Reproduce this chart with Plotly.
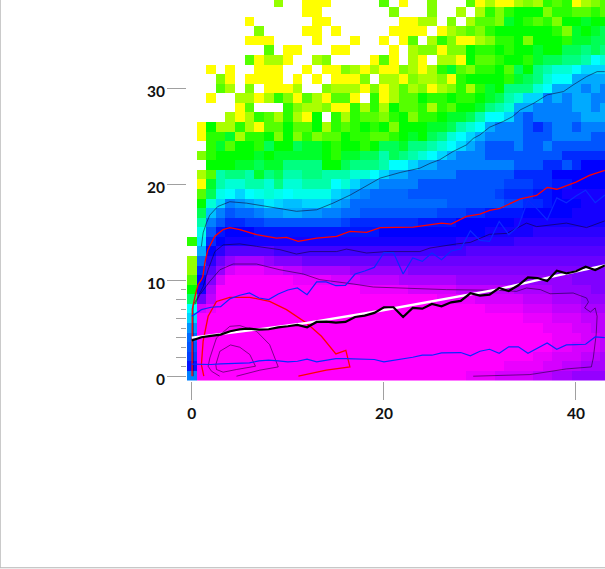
import plotly.graph_objects as go

N = None
x_bins = list(range(44))
y_bins = list(range(40))

# heat values per row (0 yellow ... 24 magenta, None = empty), rows from y=39 down to y=0
z_top_down = [
 [N,N,N,N,N,N,N,N,N,2.5, N,N,0,0,0,N,N,N,N,N, 4,N,0,N,N,3,N,N,N,4, 0,2,0,0,2,3,2,5,4,5, 0,2,3,4],
 [N,N,N,N,N,N,N,N,N,N, N,N,0,0,N,N,N,N,N,N, N,3,N,N,N,3,N,N,2,N, 2,5,3,5,6,6,6,3,5,5, 4,4,5,4],
 [N,N,N,N,N,N,0,N,N,N, N,N,N,0,0,N,N,N,N,N, N,N,0,0,2,2,N,3,N,2, 4,4,3,7,6,5,4,5,3,6, 6,7,6,6],
 [N,N,N,N,N,N,N,3,N,N, N,N,0,0,N,0,N,N,N,N, N,0,0,0,0,N,0,2,3,4, 3,5,6,6,6,6,6,6,5,3, 7,6,7,8],
 [N,N,N,N,N,N,0,0,0,N, N,N,N,0,N,N,N,0,N,N, 0,N,0,4,N,2,5,3,0,0, 2,3,5,5,6,3,6,6,6,5, 7,7,8,8],
 [N,N,N,N,N,N,N,N,4,N, 0,0,N,N,N,0,0,N,N,N, N,0,N,2,3,3,0,3,3,6, 5,5,6,5,6,6,7,6,6,8, 8,9,8,9],
 [N,N,N,N,N,N,4,0,2,2, 0,N,N,2,3,N,N,N,N,0, 4,0,N,2,0,N,2,2,0,6, 4,4,5,6,6,5,7,8,8,9, 9,10,12,11],
 [N,N,0,N,0,N,N,0,0,0, N,N,0,N,0,0,3,2,0,2, 0,0,3,2,0,2,5,7,4,3, 5,5,6,4,8,6,9,10,11,11, 12,13,13,13],
 [N,N,N,3,0,N,0,0,0,0, N,0,N,0,N,0,0,0,3,N, 2,2,0,3,2,2,3,0,5,6, 6,6,6,5,7,8,9,11,12,12, 14,14,14,14],
 [N,N,N,4,2,N,3,N,0,0, 0,2,N,N,3,2,2,2,0,3, 0,2,4,2,3,0,2,3,5,2, 5,7,6,9,9,9,11,12,14,14, 14,15,14,15],
 [N,N,0,N,N,2,2,0,2,5, 3,0,4,2,0,4,4,0,N,5, 0,2,4,4,6,5,5,6,5,5, 6,7,8,10,11,13,13,15,14,15, 14,14,15,15],
 [N,N,N,N,N,0,4,N,N,N, 5,3,2,2,3,0,0,5,2,5, 2,6,4,4,5,2,5,4,6,6, 7,9,10,11,14,14,15,15,15,15, 14,14,15,14],
 [N,N,N,N,2,0,2,5,4,2, 5,2,0,6,N,5,2,5,4,4, 3,5,6,3,5,5,6,7,7,8, 10,12,12,13,15,16,15,15,15,15, 15,14,14,14],
 [N,0,6,2,2,5,2,0,4,4, 6,4,4,6,2,5,4,5,6,5, 6,3,6,6,6,7,7,8,10,11, 12,14,15,15,15,16,17,16,15,15, 16,15,15,15],
 [N,0,5,5,7,2,5,5,6,3, 6,3,5,3,4,4,6,5,5,4, 4,5,6,7,6,8,9,11,12,13, 14,15,15,15,15,16,16,16,15,15, 15,15,16,16],
 [N,N,5,7,4,6,6,5,8,6, 6,8,7,7,6,5,6,6,5,6, 8,8,7,9,9,10,11,12,13,14, 15,16,16,16,15,16,16,15,16,16, 16,16,16,16],
 [N,3,5,6,6,6,6,7,6,7, 7,7,7,7,6,5,7,7,8,8, 10,8,9,10,11,12,13,14,15,15, 15,16,16,16,16,16,16,16,16,17, 17,17,17,17],
 [N,N,6,6,6,7,7,8,7,7, 9,9,9,9,6,6,8,9,9,9, 10,12,12,13,14,14,15,15,15,15, 15,15,15,15,16,16,16,17,17,16, 17,18,18,18],
 [N,2,4,10,9,9,10,7,9,8, 10,10,9,9,10,10,10,11,11,12, 13,14,14,15,15,15,15,15,16,16, 16,16,16,16,17,17,17,17,18,18, 18,18,18,18],
 [N,0,7,10,11,11,10,10,11,9, 11,11,10,10,10,12,11,13,14,14, 15,15,15,15,16,16,16,16,16,16, 16,16,16,16.5,16.5,16.5,17,17,17.5,17.5, 18,18,18,18],
 [N,4,8,11.5,12,13,12,11.5,11,11.5, 12,11.5,11.5,11.5,11.5,13,13.5,14.5,15,15.5, 15.5,15.5,15.5,16,16,16,16,16,16,16, 16,16,16.5,17,17,17,17.5,17.5,18,18.5, 18.5,18.5,18.5,18.5],
 [N,6,11,13,15,14.5,14,13.5,12.5,13, 13.5,13.5,13,13,13,14,14.5,15.5,15.5,15.5, 15.5,15.5,15.5,15.5,15.5,15.5,15.5,16,16,16, 16,16,16,16.5,16.5,17,17,17.5,18,18, 18,18.5,18.5,18.5],
 [N,8,13.5,15,16,15.5,15.5,15,14.5,14.5, 14,14,14.5,14.5,15,15,15.5,15.5,16,16, 16,16,16,16,16,16,16.5,16.5,16.5,17, 17,17.5,17.5,17.5,17.5,18,18,18,18,18, 18.5,18.5,18.5,18.5],
 [N,10,15,16,17,17,16.5,16.5,16,16, 16,16,16,16,16,16,16.5,17,17,17, 17,17,17,17,17.5,17.5,17.5,17.5,18,18, 18,18,18,18,18.5,18.5,18.5,18.5,18.5,18.5, 18.5,18.5,18.5,18.5],
 [N,11.5,16,17.5,18,18,18,17.5,17.5,17.5, 17.5,17.5,17.5,17.5,17.5,17.5,17.5,17.5,17.5,17.5, 18,18,18,18,18,18,18,18,18,18, 18,18.5,18.5,18.5,18.5,18.5,19,19,19,19, 19,19,19,19],
 [5,12.5,17,18,18.5,18.5,18.5,18.5,18.5,18.5, 18.5,18.5,18.5,18.5,18.5,18.5,18.5,18.5,18.5,18.5, 18.5,18.5,18.5,18.5,18.5,18.5,18.5,18.5,19,19, 19,19,19,19,19.5,19.5,19.5,19.5,19.5,19.5, 19.5,19.5,19.5,19.5],
 [N,14,18,19,20,20,20,20,20,19.5, 19.5,19.5,19.5,19.5,19.5,19.5,19.5,19.5,19.5,19.5, 19.5,19.5,19.5,19.5,19.5,19.5,19.5,19.5,19.5,20, 20,20,20,20,20,20,20,20,20,20, 20,20,20,20],
 [2.5,15.5,19,20.5,21.5,22,22,22,21.5,21, 21,21,20.5,20.5,20.5,20.5,20.5,20.5,20.5,20.5, 20.5,20.5,20.5,20.5,20.5,20.5,20.5,20.5,20.5,20.5, 20.5,20.5,20.5,20.5,20.5,20.5,20.5,20.5,20.5,20.5, 20.5,20.5,20.5,20.5],
 [2.5,17,20,21.5,23,23.5,23.5,23.5,23,23, 22.5,22.5,22,22,22,22,22,21.5,21.5,21.5, 21.5,21.5,21.5,21,21,21,21,21,21,21, 21,21,21,21,21,21,21,21,21,21, 21,21,21,21],
 [4,18,21,23,24,24,24,24,24,24, 24,23.5,23.5,23.5,23.5,23,23,23,22.5,22.5, 22.5,22.5,22,22,22,22,22,22,21.5,21.5, 21.5,21.5,21.5,21.5,21.5,21.5,21.5,21.5,21.5,21.5, 21,21,21,21],
 [6,18.5,22,24,24,24,24,24,24,24, 24,24,24,24,24,24,24,24,23.5,23.5, 23.5,23.5,23.5,23,23,23,23,23,22.5,22.5, 22.5,22.5,22.5,22.5,22,22,22,22,21.5,21.5, 21.5,21.5,21,21],
 [8.5,20.5,22.5,24,24,24,24,24,24,24, 24,24,24,24,24,24,24,24,24,24, 24,24,24,24,24,24,23.5,23.5,23.5,23.5, 23,23,23,23,23,22.5,22.5,22.5,22,22, 22,21.5,21.5,21.5],
 [12,23,23.5,24,24,24,24,24,24,24, 24,24,24,24,24,24,24,24,24,24, 24,24,24,24,24,24,24,24,24,24, 24,23.5,23.5,23.5,23.5,23,23,23,22.5,22.5, 22.5,22,22,22],
 [13,24,24,24,24,24,24,24,24,24, 24,24,24,24,24,24,24,24,24,24, 24,24,24,24,24,24,24,24,24,24, 24,24,24,24,24,23.5,23.5,23.5,23,23, 23,22.5,22.5,22.5],
 [14.5,24,24,24,24,24,24,24,24,24, 24,24,24,24,24,24,24,24,24,24, 24,24,24,24,24,24,24,24,24,24, 24,24,24,24,24,24,24,23.5,23.5,23.5, 23,23,22.5,22.5],
 [15.5,24,24,24,24,24,24,24,24,24, 24,24,24,24,24,24,24,24,24,24, 24,24,24,24,24,24,24,24,24,24, 24,24,24,24,24,24,24,24,23.5,23.5, 23.5,23,23,22.5],
 [16,24,24,24,24,24,24,24,24,24, 24,24,24,24,24,24,24,24,24,24, 24,24,24,24,24,24,24,24,24,24, 24,24,24,24,24,24,24,24,23.5,23.5, 23,23,23,22.5],
 [16.5,24,24,24,24,24,24,24,24,24, 24,24,24,24,24,24,24,24,24,24, 24,24,24,24,24,24,24,24,24,24, 24,24,24,24,24,24,23.5,23.5,23,23, 23,22.5,22.5,22],
 [17.5,24,24,24,24,24,24,24,24,24, 24,24,24,24,24,24,24,24,24,24, 24,24,24,24,24,24,24,24,24,24, 24,24,24,23.5,23.5,23.5,23.5,23,23,22.5, 22.5,22,22,22],
 [15,24,24,24,24,24,24,24,24,24, 24,24,24,24,24,24,24,24,24,24, 24,24,24,24,24,24,24,24,24,23.5, 23.5,23.5,23,23,23,23,22.5,22.5,22,22, 21.5,21.5,21.5,21.5],
]

bin_x = list(range(44))
mean_y = [3.72,4.06,4.2,4.34,4.69,4.9,4.97,4.86,4.9,5.1,5.21,5.35,5.1,5.66,5.69,5.59,5.66,6.18,6.32,6.6,
          7.19,7.19,6.18,7.12,7.05,7.53,7.29,7.71,7.85,8.65,8.4,8.51,9.2,8.89,9.48,10.31,10.24,9.93,11.0,10.73,
          10.94,11.42,11.08,11.56]
fit_x = [0, 3.26, 6.7, 12, 16, 18.9, 31.7, 38, 43]
fit_y = [4.03, 4.4, 4.86, 5.56, 6.25, 6.7, 9.03, 10.49, 11.56]
pct_low_y = [1.25,1.22,1.22,1.28,1.32,1.35,1.39,1.6,1.67,1.6,1.49,1.56,1.77,1.49,1.67,1.84,1.84,1.81,1.77,1.74,
             1.49,1.63,1.77,1.98,2.19,2.19,2.43,2.43,2.47,2.12,2.6,2.81,2.4,3.06,3.06,2.4,2.95,3.47,2.81,3.26,
             3.3,3.33,4.1,4.03]
pct_high_y = [6.25,6.94,7.19,7.26,8.09,8.44,8.68,8.16,7.99,8.58,8.99,9.2,8.51,9.83,9.83,9.44,9.48,10.66,10.97,11.35,
              12.88,12.88,10.66,12.33,11.98,12.85,12.15,13.06,13.26,15.17,14.17,14.06,16.15,14.76,15.63,18.4,17.4,16.3,18.6,18.1,
              18.8,19.4,18.1,18.9]

c1_x = [1.0,1.18,1.53,1.87,2.7,3.96,5.7,7.78,9.5,10.9,13,14.7,16.5,18.54,19.6,21.7,23.75,24.8,25.8,27.2,28.6,29.3,30,31,32.4,33.4,34.2,35.6,37,38.7,39.7,41.1,42.2,43]
c1_y = [13.54,14.96,16,16.8,17.7,18.2,18.05,17.7,17.36,17.2,17.36,18.05,18.9,20.03,20.66,21.25,21.7,22.2,22.57,23.44,24.13,24.8,25.17,25.97,26.56,27.08,27.78,28.47,29.34,29.69,30.38,31.25,31.77,31.77]

red1_x = [0.03,0.05,0.42,0.66,1.0,1.15,1.35,1.68,2.4,3.26,3.96,5,6.74,8.82,9.86,11.08,13,15.07,16.46,18.2,19.6,23.05,26,27,28.6,30,31,32,34.2,35.9,37,38,40,41.4,43]
red1_y = [0,7,8.69,9.55,10.07,10.4,11.8,13.2,14.6,15.3,15.5,15.28,14.76,14.41,14.48,14.06,14.41,14.58,15.1,15,15.5,15.56,15.97,15.87,16.67,16.91,17.3,17.47,18.5,18.85,19.69,19.5,20.24,20.94,21.46]

c3_x = [0.15,0.15,0.5,1.18,1.7,2.4,3.26,5,6.74,9.17,10.9,12.3,15.07,16.1,18.2,20.3,23.75,24.8,27.6,29,31,32.8,34.85,35.9,39,41.1,43]
c3_y = [0,7.5,8,9.34,11.1,13,13.7,13.8,13.54,13.2,12.74,13,13,13.26,12.85,13,13,13.37,13.8,13.96,14.8,14.9,15.97,15.6,15.97,15.5,16.2]

c4_x = [0.3,0.83,1.88,2.92,4.3,6.74,9.17,11.6,13.33,15.4,16.8,18.9,22,26.5,31.7,33.8,34.85,36.3,37.3,39.7,41.1,41.3,40.9,41.5,42,42.2,42.1,41.8,41.6,39,35.2,29.3]
c4_y = [7.46,8.5,9.9,11.1,11.7,11.7,11.1,10.66,10.07,9.83,9.62,9.3,9.2,9.03,8.96,8.85,9.2,9.03,8.6,8.68,8.16,7.74,7.12,6.7,7.12,6.25,4.34,1.9,0.97,0.76,0.17,0]

red2_x = [1.25,1.0,1.18,1.7,2.57,3.96,6.04,8.1,9.86,11.94,13.5,15,16.04,16.46,14,11.1]
red2_y = [0,1.2,3.65,6.25,7.8,8.23,8.23,7.8,6.94,5.56,4.17,2.33,2.7,0.97,0.63,0]

cA_x = [2.9,2.05,1.7,1.88,2.57,3.96,5,6.74,8.1,9,7.08,4.65]
cA_y = [0,0.52,1.04,1.9,4,5.2,5.28,4.69,3.3,0.97,0.63,0]
cB_x = [3.26,2.57,2.5,2.92,4.03,5,6.04,6.63,4.65,3.26]
cB_y = [0.42,0.7,1.2,2.6,3.26,3.02,2.26,1.04,0.7,0.42]

y_major = [0, 10, 20, 30]
x_major = [0, 20, 40]
y_minor_even = [2, 4, 6, 8]
y_minor_odd = [1, 3, 5, 7, 9]

THIN = "rgba(20,0,40,0.55)"

fig = go.Figure()
fig.add_trace(go.Heatmap(
    x=x_bins, y=y_bins, z=z_top_down[::-1], zmin=0, zmax=24, showscale=False, hoverongaps=False,
    colorscale=[[0, "#ffff00"], [0.25, "#00ff00"], [0.5, "#00ffff"], [0.75, "#0000ff"], [1, "#ff00ff"]],
))

def line(x, y, color, width):
    fig.add_trace(go.Scatter(x=x, y=y, mode="lines", showlegend=False,
                             line=dict(color=color, width=width), hoverinfo="skip"))

line(c1_x, c1_y, THIN, 1)
line(c3_x, c3_y, THIN, 1)
line(c4_x, c4_y, THIN, 1)
line(cA_x, cA_y, THIN, 1)
line(cB_x, cB_y, THIN, 1)
line(red1_x, red1_y, "#ff0000", 1.3)
line(red2_x, red2_y, "#ff0000", 1.3)
line(bin_x, pct_low_y, "#0a28ff", 1.2)
line(bin_x, pct_high_y, "#0a28ff", 1.2)
line(fit_x, fit_y, "#ffffff", 2.4)
line(bin_x, mean_y, "#000000", 2.2)

# extra axis, carries only the shortest left ticks
fig.add_trace(go.Scatter(x=[], y=[], yaxis="y2", showlegend=False))

L, B, W, H = 187.2, 187.5, 605, 569
PW, PH = W - L, H - B
TICK = "#a0a0a0"
FONT = dict(family="Lato, sans-serif", size=15.5, color="#111111", weight="bold")

frame = dict(type="line", xref="paper", yref="paper", line=dict(color="#b4b4b4", width=1))
fig.update_layout(
    width=W, height=H, autosize=False,
    margin=dict(l=L, r=0, t=0, b=B, pad=0),
    paper_bgcolor="white", plot_bgcolor="white", showlegend=False,
    xaxis=dict(range=[-0.5, 43.02], tickmode="array", tickvals=x_major, ticks="outside", ticklen=18,
               tickcolor=TICK, tickwidth=1, tickfont=FONT, showgrid=False, zeroline=False, showline=False,
               ticklabelstandoff=0),
    yaxis=dict(range=[-0.5, 39.24], tickmode="array", tickvals=y_major, ticks="outside", ticklen=19,
               tickcolor=TICK, tickwidth=1, tickfont=FONT, showgrid=False, zeroline=False, showline=False,
               ticklabelstandoff=-1, ticklabelshift=3,
               minor=dict(tickmode="array", tickvals=y_minor_even, ticks="outside", ticklen=10,
                          tickcolor=TICK, tickwidth=1, showgrid=False)),
    yaxis2=dict(range=[-0.5, 39.24], overlaying="y", side="left", anchor="x", tickmode="array",
                tickvals=y_minor_odd, ticks="outside", ticklen=5, tickcolor=TICK, tickwidth=1,
                showticklabels=False, showgrid=False, zeroline=False, showline=False),
    shapes=[
        dict(frame, x0=(0.5 - L) / PW, x1=(0.5 - L) / PW, y0=(PH - 568.5) / PH, y1=1),
        dict(frame, x0=(0 - L) / PW, x1=1, y0=(PH - 568.5) / PH, y1=(PH - 568.5) / PH),
    ],
)

fig.write_html("out.html", config=dict(displayModeBar=False),
               post_script="document.body.style.margin='0';document.body.style.overflow='hidden';")
